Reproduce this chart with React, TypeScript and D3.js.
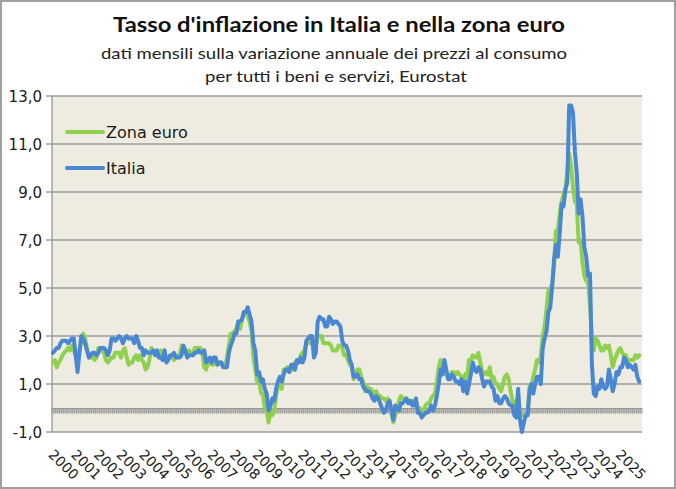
import React from "react";
import * as d3 from "d3";

// Monthly annual HICP rate (%), Jan 2000 .. Nov 2025
const euroArea: number[] = [
  1.9, 2.0, 1.7, 1.9, 2.0, 2.2, 2.3, 2.4, 2.5, 2.4, 2.6, 2.4, // 2000
  2.2, 2.1, 2.4, 2.8, 3.1, 2.9, 2.5, 2.2, 2.1, 2.2, 2.0, 2.1, // 2001
  2.5, 2.4, 2.4, 2.3, 2.0, 1.9, 2.0, 2.1, 2.1, 2.3, 2.3, 2.3, // 2002
  2.1, 2.4, 2.5, 2.1, 1.8, 1.9, 1.9, 2.1, 2.2, 2.0, 2.2, 2.0, // 2003
  1.9, 1.6, 1.7, 2.0, 2.5, 2.4, 2.3, 2.3, 2.1, 2.4, 2.2, 2.4, // 2004
  1.9, 2.1, 2.1, 2.1, 2.0, 2.1, 2.2, 2.2, 2.6, 2.5, 2.3, 2.2, // 2005
  2.4, 2.3, 2.2, 2.5, 2.5, 2.5, 2.5, 2.3, 1.7, 1.6, 1.9, 1.9, // 2006
  1.8, 1.8, 1.9, 1.9, 1.9, 1.9, 1.8, 1.7, 2.1, 2.6, 3.1, 3.1, // 2007
  3.2, 3.3, 3.6, 3.3, 3.7, 4.0, 4.0, 3.8, 3.6, 3.2, 2.1, 1.6, // 2008
  1.1, 1.2, 0.6, 0.6, 0.0, -0.1, -0.6, -0.2, -0.3, -0.1, 0.5, 0.9, // 2009
  0.9, 0.8, 1.6, 1.6, 1.7, 1.5, 1.7, 1.6, 1.9, 1.9, 1.9, 2.2, // 2010
  2.3, 2.4, 2.7, 2.8, 2.7, 2.7, 2.6, 2.6, 3.0, 3.0, 3.0, 2.7, // 2011
  2.7, 2.7, 2.7, 2.6, 2.4, 2.4, 2.4, 2.6, 2.6, 2.5, 2.2, 2.2, // 2012
  2.0, 1.8, 1.7, 1.2, 1.4, 1.6, 1.6, 1.3, 1.1, 0.7, 0.9, 0.8, // 2013
  0.8, 0.7, 0.5, 0.7, 0.5, 0.5, 0.4, 0.4, 0.3, 0.4, 0.3, -0.2, // 2014
  -0.6, -0.3, 0.0, 0.3, 0.5, 0.4, 0.4, 0.3, 0.2, 0.3, 0.3, 0.3, // 2015
  0.3, -0.2, 0.0, -0.2, -0.1, 0.1, 0.2, 0.2, 0.4, 0.5, 0.6, 1.1, // 2016
  1.7, 2.0, 1.5, 1.9, 1.4, 1.3, 1.3, 1.5, 1.5, 1.4, 1.5, 1.4, // 2017
  1.3, 1.1, 1.4, 1.2, 2.0, 2.0, 2.2, 2.1, 2.1, 2.3, 1.9, 1.5, // 2018
  1.4, 1.5, 1.4, 1.7, 1.2, 1.3, 1.0, 1.0, 0.8, 0.7, 1.0, 1.3, // 2019
  1.4, 1.2, 0.7, 0.3, 0.1, 0.3, 0.4, -0.2, -0.3, -0.3, -0.3, -0.3, // 2020
  0.9, 0.9, 1.3, 1.6, 2.0, 1.9, 2.2, 3.0, 3.4, 4.1, 4.9, 5.0, // 2021
  5.1, 5.9, 7.4, 7.4, 8.1, 8.6, 8.9, 9.1, 9.9, 10.6, 10.1, 9.2, // 2022
  8.6, 8.5, 6.9, 7.0, 6.1, 5.5, 5.3, 5.2, 4.3, 2.9, 2.4, 2.9, // 2023
  2.8, 2.6, 2.4, 2.4, 2.6, 2.5, 2.6, 2.2, 1.7, 2.0, 2.2, 2.4, // 2024
  2.5, 2.3, 2.2, 2.2, 1.9, 2.0, 2.0, 2.0, 2.2, 2.1, 2.2, // 2025
];

const italy: number[] = [
  2.3, 2.4, 2.5, 2.5, 2.7, 2.8, 2.8, 2.8, 2.7, 2.8, 2.9, 2.9, // 2000
  2.2, 1.5, 2.3, 3.0, 2.9, 2.7, 2.4, 2.1, 2.2, 2.3, 2.3, 2.2, // 2001
  2.3, 2.5, 2.5, 2.5, 2.4, 2.2, 2.4, 2.9, 2.9, 2.8, 2.9, 3.0, // 2002
  2.9, 2.7, 2.9, 3.0, 2.9, 2.9, 2.9, 2.7, 3.0, 2.8, 2.5, 2.5, // 2003
  2.2, 2.4, 2.3, 2.3, 2.3, 2.4, 2.2, 2.4, 2.1, 2.1, 2.0, 2.4, // 2004
  1.9, 2.0, 2.2, 2.2, 2.3, 2.1, 2.1, 2.1, 2.2, 2.6, 2.4, 2.1, // 2005
  2.2, 2.2, 2.2, 2.3, 2.3, 2.4, 2.3, 2.3, 2.4, 1.9, 2.0, 2.1, // 2006
  1.9, 2.1, 2.1, 1.8, 1.9, 1.9, 1.7, 1.7, 1.7, 2.3, 2.6, 2.8, // 2007
  3.1, 3.1, 3.6, 3.6, 3.7, 4.0, 4.0, 4.2, 3.9, 3.6, 2.7, 2.4, // 2008
  1.4, 1.5, 1.1, 1.2, 0.8, 0.6, -0.1, 0.1, 0.4, 0.3, 0.8, 1.1, // 2009
  1.3, 1.1, 1.4, 1.6, 1.6, 1.5, 1.8, 1.8, 1.6, 2.0, 1.9, 2.1, // 2010
  1.9, 2.1, 2.8, 2.9, 3.0, 3.0, 2.1, 2.3, 3.6, 3.8, 3.7, 3.7, // 2011
  3.4, 3.4, 3.8, 3.7, 3.5, 3.6, 3.6, 3.5, 3.4, 2.8, 2.6, 2.6, // 2012
  2.4, 2.0, 1.8, 1.3, 1.3, 1.4, 1.2, 1.2, 0.9, 0.8, 0.7, 0.7, // 2013
  0.6, 0.4, 0.3, 0.5, 0.4, 0.2, 0.0, -0.2, -0.1, 0.2, 0.3, -0.1, // 2014
  -0.5, 0.1, 0.0, -0.1, 0.2, 0.2, 0.3, 0.4, 0.2, 0.3, 0.1, 0.1, // 2015
  0.4, -0.2, -0.2, -0.4, -0.3, -0.2, -0.2, -0.1, 0.1, -0.1, 0.1, 0.5, // 2016
  1.0, 1.6, 1.4, 2.0, 1.6, 1.2, 1.2, 1.4, 1.3, 1.1, 1.1, 1.0, // 2017
  1.2, 0.7, 1.1, 0.6, 1.0, 1.4, 1.9, 1.6, 1.5, 1.7, 1.6, 1.2, // 2018
  0.9, 1.1, 1.1, 1.1, 0.9, 0.8, 0.3, 0.5, 0.2, 0.2, 0.4, 0.5, // 2019
  0.4, 0.2, 0.1, 0.1, -0.3, -0.4, 0.8, -0.5, -1.0, -0.6, -0.3, -0.3, // 2020
  0.7, 1.0, 0.6, 1.0, 1.3, 1.3, 1.0, 2.5, 2.9, 3.2, 4.0, 4.2, // 2021
  5.1, 6.2, 6.8, 6.3, 7.3, 8.5, 8.4, 9.1, 9.4, 12.6, 12.6, 12.3, // 2022
  10.7, 9.8, 8.1, 8.7, 8.0, 6.7, 6.3, 5.5, 5.6, 1.8, 0.6, 0.5, // 2023
  0.9, 0.8, 1.2, 0.9, 0.8, 0.9, 1.6, 1.2, 0.7, 1.0, 1.5, 1.4, // 2024
  1.7, 1.7, 2.1, 2.0, 1.7, 1.8, 1.7, 1.6, 1.8, 1.3, 1.1, // 2025
];

const years: number[] = d3.range(2000, 2026);
const yTicks: number[] = [-1, 1, 3, 5, 7, 9, 11, 13];
const monthCount = 312; // Jan 2000 .. Dec 2025 slots

const seriesNames = ["Zona euro", "Italia"];
const seriesColors = ["#8fd14f", "#4a87d3"];

export default function App() {
  const W = 676, H = 489;
  const left = 52, right = 642, top = 96, bottom = 432;

  const x = d3.scaleBand<number>().domain(d3.range(monthCount)).range([left, right]).padding(0);
  const bw = x.bandwidth();
  const y = d3.scaleLinear().domain([-1, 13]).range([bottom, top]);
  const line = d3
    .line<number>()
    .x((_, i) => (x(i) as number) + bw / 2)
    .y((d) => y(d));

  const y0 = y(0);
  const fmt = (v: number) => v.toFixed(1).replace(".", ",");
  const font = "'DejaVu Sans', Verdana, sans-serif";

  return (
    <div style={{ position: "fixed", left: 0, top: 0 }}>
      <svg width={W} height={H} style={{ display: "block" }}>
        <rect x={0} y={0} width={W} height={H} fill="#ffffff" />
        <rect x={1} y={1} width={W - 2} height={H - 2} fill="none" stroke="#a0a0a0" strokeWidth={2} />

        {/* titles */}
        <text x={339} y={32} textAnchor="middle" fontFamily="Lato, 'Open Sans', sans-serif" fontWeight={700}
          fontSize={21} fill="#111" textLength={452} lengthAdjust="spacingAndGlyphs">
          Tasso d'inflazione in Italia e nella zona euro
        </text>
        <text x={334} y={59} textAnchor="middle" fontFamily="Lato, 'Open Sans', sans-serif"
          fontSize={16} fill="#222" textLength={466} lengthAdjust="spacingAndGlyphs">
          dati mensili sulla variazione annuale dei prezzi al consumo
        </text>
        <text x={336} y={82} textAnchor="middle" fontFamily="Lato, 'Open Sans', sans-serif"
          fontSize={16} fill="#222" textLength={262} lengthAdjust="spacingAndGlyphs">
          per tutti i beni e servizi, Eurostat
        </text>

        {/* plot background */}
        <rect x={left} y={top} width={right - left} height={bottom - top} fill="#eeece1" />

        {/* gridlines & y ticks */}
        {yTicks.map((t) => (
          <g key={t}>
            <line x1={left - 6} x2={right} y1={y(t)} y2={y(t)} stroke="#9c9c9c" strokeWidth={1.4} />
            <text x={42} y={y(t) + 1} dy="0.35em" textAnchor="end" fontFamily={font} fontSize={15} fill="#1a1a1a">
              {fmt(t)}
            </text>
          </g>
        ))}
        <line x1={left} x2={left} y1={top} y2={bottom} stroke="#9c9c9c" strokeWidth={1.4} />

        {/* zero axis with monthly ticks */}
        <rect x={left} y={y0 + 0.5} width={right - left} height={5} fill="#cfcdc6" />
        <line x1={left} x2={right} y1={y0 + 0.5} y2={y0 + 0.5} stroke="#9a9a9a" strokeWidth={1} />
        {d3.range(monthCount + 1).map((i) => {
          const xx = left + i * bw;
          return <line key={i} x1={xx} x2={xx} y1={y0 + 0.5} y2={y0 + 5.5} stroke="#888888" strokeWidth={0.8} />;
        })}

        {/* series */}
        <path d={line(euroArea) || ""} fill="none" stroke={seriesColors[0]} strokeWidth={4}
          strokeLinejoin="round" strokeLinecap="round" />
        <path d={line(italy) || ""} fill="none" stroke={seriesColors[1]} strokeWidth={4}
          strokeLinejoin="round" strokeLinecap="round" />

        {/* legend */}
        {seriesNames.map((name, k) => (
          <g key={name} transform={`translate(0, ${132 + k * 36})`}>
            <line x1={67} x2={103} y1={0} y2={0} stroke={seriesColors[k]} strokeWidth={4} strokeLinecap="round" />
            <text x={106} y={0} dy="0.36em" fontFamily={font} fontSize={16} fill="#1a1a1a">
              {name}
            </text>
          </g>
        ))}

        {/* x labels */}
        {years.map((yr, k) => {
          const xx = (x(k * 12) as number) - 1;
          return (
            <text key={yr} transform={`translate(${xx}, ${452}) rotate(45)`} dy="0.35em"
              fontFamily={font} fontSize={14} fill="#1a1a1a">
              {yr}
            </text>
          );
        })}
      </svg>
    </div>
  );
}
